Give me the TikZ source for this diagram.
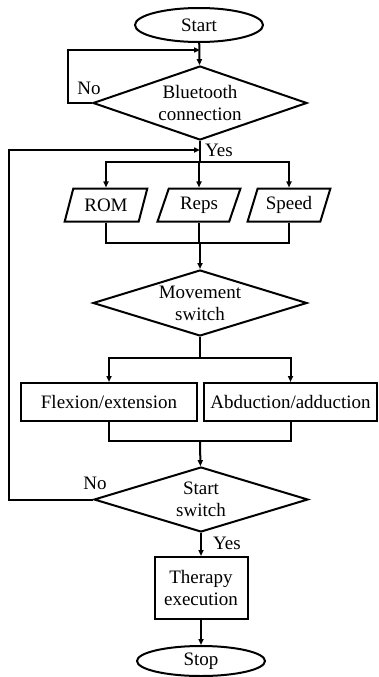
\documentclass[tikz,border=0pt]{standalone}
\usepackage{fontspec}
\setmainfont{Liberation Serif}
\usepackage{tikz}
\usetikzlibrary{arrows.meta, positioning, shapes.geometric}

\begin{document}
\begin{tikzpicture}[x=1pt, y=-1pt,
      font=\fontsize{19}{22}\selectfont,
      box/.style={draw, line width=2pt, minimum height=38pt, inner sep=2pt, align=center},
      term/.style={draw, ellipse, line width=2pt, minimum width=128pt, inner sep=0pt},
      dec/.style={draw, diamond, aspect=3, line width=2pt, minimum width=214pt,
                  minimum height=68pt, inner sep=0pt, align=center},
      io/.style={draw, trapezium, trapezium left angle=68, trapezium right angle=112,
                 trapezium stretches=true, line width=2pt, minimum width=83pt,
                 minimum height=33pt, inner sep=1pt},
      line/.style={line width=2pt},
      arrow/.style={line, -{Triangle[length=6pt, width=5pt]}},
      tag/.style={inner sep=0pt}
    ]
    \useasboundingbox (0,0) rectangle (379,677);

    \node[term, minimum height=34pt] (start) at (199,25) {Start};
    \node[dec, minimum height=74pt] (bt) at (200,103) {Bluetooth\\connection};
    \node[io] (rom) at (106,205) {ROM};
    \node[io] (reps) at (199,205) {Reps};
    \node[io] (speed) at (289,205) {Speed};
    \node[dec, minimum height=66pt] (mv) at (200,303) {Movement\\switch};
    \node[box, minimum width=176pt] (flex) at (109,402) {Flexion/extension};
    \node[box, minimum width=173pt] (abd) at (290.5,402) {Abduction/adduction};
    \node[dec, minimum height=65pt] (ss) at (201,499.5) {Start\\switch};
    \node[box, minimum width=93pt, minimum height=62pt] (ther) at (201,588) {Therapy\\execution};
    \node[term, minimum height=30pt] (stop) at (201,661) {Stop};

    % joints on the main column
    \coordinate (join1) at (200,50);
    \coordinate (join2) at (200,150);
    \coordinate (split1) at (200,162);
    \coordinate (merge1) at (200,243);
    \coordinate (split2) at (200,358);
    \coordinate (merge2) at (200,441);

    \draw[arrow] (start) -- (bt);
    \draw[arrow] (bt.west) -- ++(-24,0) |- (join1);
    \draw[line] (bt.south) -- (split1);
    \draw[arrow] (ss.west) -- ++(-84,0) |- (join2);

    \foreach \n in {rom, reps, speed}
      \draw[arrow] (split1) -| (\n.north);
    \foreach \n in {rom, reps, speed}
      \draw[line] (\n.south) |- (merge1);
    \draw[arrow] (merge1) -- (mv);

    \draw[line] (mv.south) -- (split2);
    \foreach \n in {flex, abd}
      \draw[arrow] (split2) -| (\n.north);
    \foreach \n in {flex, abd}
      \draw[line] (\n.south) |- (merge2);
    \draw[arrow] (merge2) -- (ss);

    \draw[arrow] (ss) -- (ther);
    \draw[arrow] (ther) -- (stop);

    % branch labels
    \node[tag] (no1) at (89,88) {No};
    \node[tag] (yes1) at (219,150) {Yes};
    \node[tag] (no2) at (95,483) {No};
    \node[tag] (yes2) at (227,543) {Yes};
  \end{tikzpicture}
\end{document}
